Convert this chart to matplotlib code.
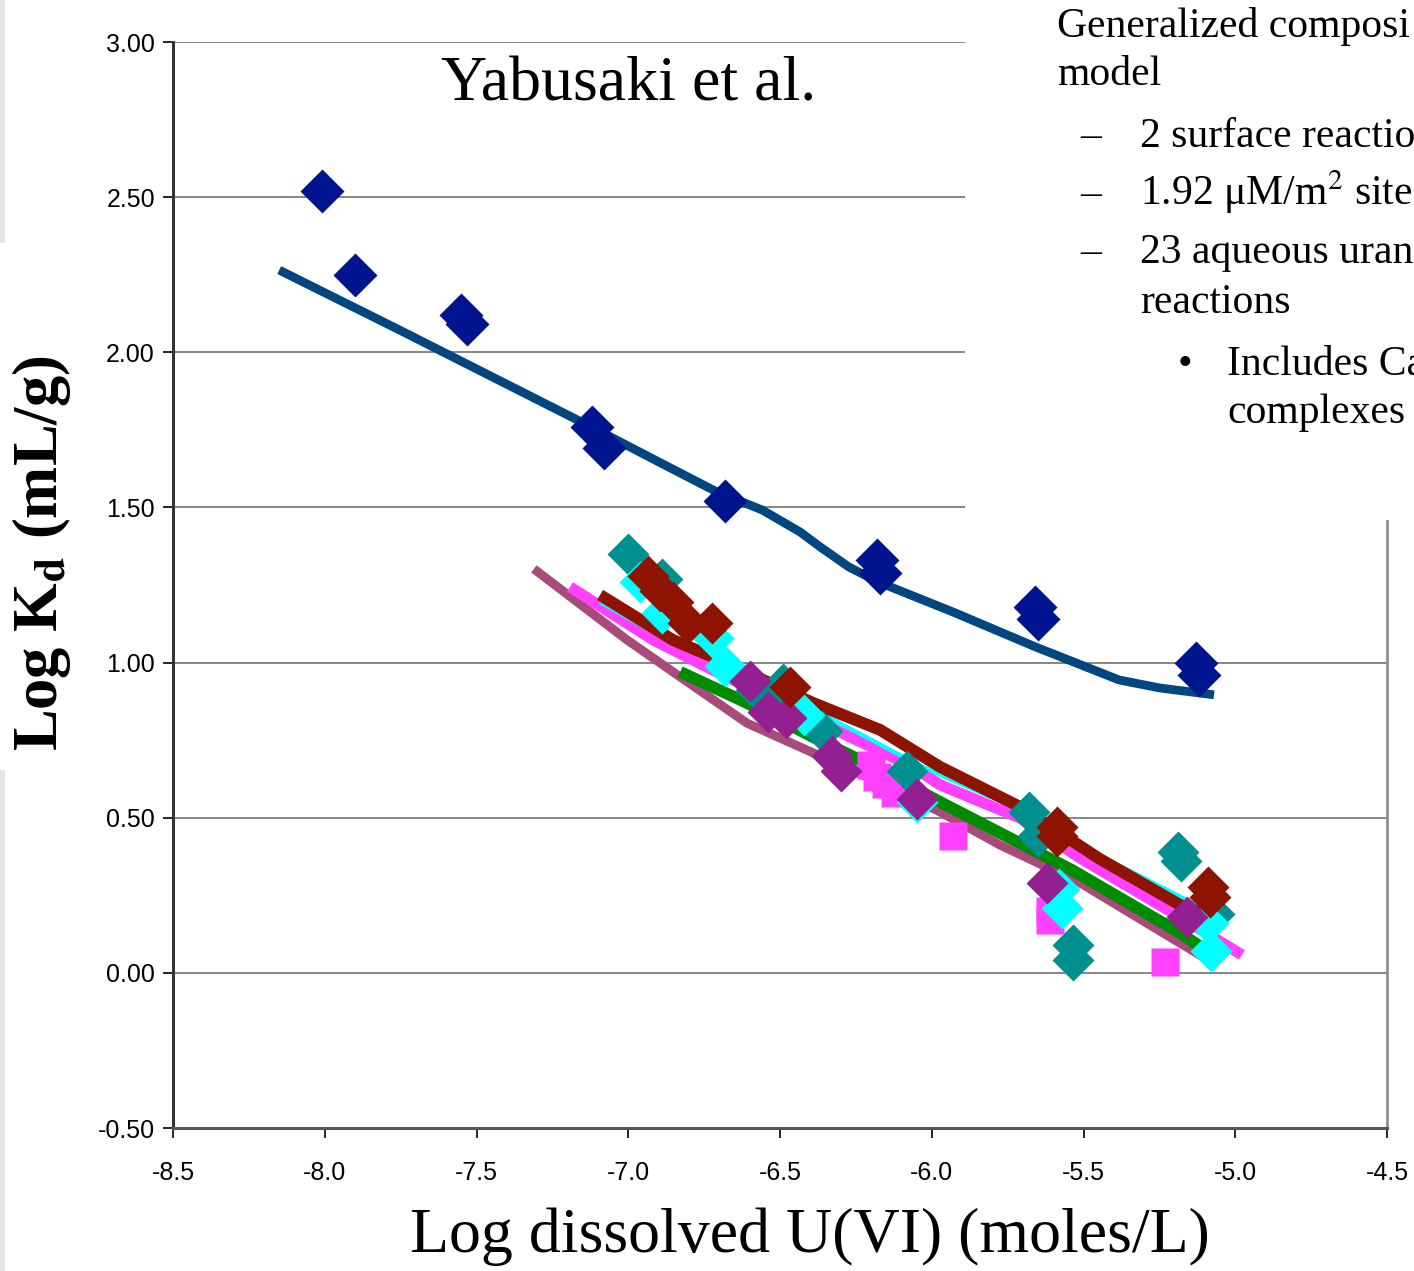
import matplotlib
matplotlib.use("Agg")
import matplotlib.pyplot as plt
from matplotlib.patches import Rectangle
from matplotlib.ticker import FormatStrFormatter

plt.rcParams['mathtext.fontset'] = 'stix'

# measured points (log U vs log Kd)
navy_x = [-8.01, -7.90, -7.55, -7.53, -7.12, -7.08, -6.68, -6.18, -6.17, -5.66, -5.65, -5.13, -5.12]
navy_y = [2.52, 2.25, 2.12, 2.09, 1.76, 1.69, 1.52, 1.33, 1.29, 1.18, 1.14, 1.00, 0.96]

teal_x = [-7.00, -6.89, -6.58, -6.49, -6.50, -6.36, -6.08, -5.68, -5.65, -5.19, -5.18, -5.07, -5.535, -5.535]
teal_y = [1.35, 1.27, 0.91, 0.93, 0.87, 0.78, 0.65, 0.52, 0.44, 0.39, 0.36, 0.19, 0.09, 0.04]

cyan_x = [-6.96, -6.89, -6.72, -6.68, -6.42, -6.05, -5.58, -5.57, -5.09, -5.08]
cyan_y = [1.26, 1.16, 1.08, 0.99, 0.83, 0.55, 0.27, 0.21, 0.16, 0.07]

purple_x = [-6.60, -6.54, -6.48, -6.33, -6.30, -6.05, -5.62, -5.16]
purple_y = [0.94, 0.84, 0.82, 0.70, 0.65, 0.56, 0.29, 0.18]

red_x = [-6.935, -6.895, -6.853, -6.803, -6.724, -6.467, -5.587, -5.587, -5.09, -5.083]
red_y = [1.28, 1.23, 1.195, 1.128, 1.128, 0.921, 0.47, 0.44, 0.277, 0.245]

mag_x = [-6.20, -6.18, -6.15, -6.12, -5.93, -5.61, -5.61, -5.23]
mag_y = [0.67, 0.63, 0.61, 0.58, 0.44, 0.20, 0.17, 0.035]

# model curves
navyfit_x = [-8.15, -7.75, -7.103, -6.912, -6.708, -6.559, -6.434, -6.368, -6.273, -6.177,
             -5.930, -5.657, -5.383, -5.248, -5.070]
navyfit_y = [2.265, 2.07, 1.750, 1.653, 1.550, 1.492, 1.421, 1.373, 1.308, 1.260,
             1.163, 1.050, 0.944, 0.918, 0.896]

mauve_x = [-7.311, -7.004, -6.829, -6.609, -6.391, -6.170, -5.973, -5.775, -5.511, -5.106]
mauve_y = [1.302, 1.073, 0.954, 0.805, 0.709, 0.612, 0.519, 0.412, 0.29, 0.051]

green_x = [-6.829, -6.609, -6.391, -6.170, -5.973, -5.775, -5.535, -5.182, -5.06]
green_y = [0.970, 0.870, 0.760, 0.654, 0.551, 0.451, 0.33, 0.129, 0.048]

magfit_x = [-7.192, -6.918, -6.721, -6.302, -6.062, -5.973, -5.709, -5.511, -5.182, -4.978]
magfit_y = [1.244, 1.073, 0.976, 0.776, 0.664, 0.606, 0.499, 0.37, 0.18, 0.058]

cyanfit_x = [-7.093, -6.872, -6.632, -6.325, -6.062, -5.973, -5.709, -5.49, -5.16, -5.08]
cyanfit_y = [1.195, 1.073, 0.967, 0.816, 0.68, 0.638, 0.525, 0.40, 0.235, 0.20]

redfit_x = [-7.093, -6.853, -6.698, -6.391, -6.170, -5.973, -5.709, -5.446, -5.182, -5.07]
redfit_y = [1.218, 1.073, 1.008, 0.870, 0.783, 0.664, 0.535, 0.367, 0.219, 0.177]

xticks = [-8.5, -8.0, -7.5, -7.0, -6.5, -6.0, -5.5, -5.0, -4.5]
yticks = [-0.5, 0.0, 0.5, 1.0, 1.5, 2.0, 2.5, 3.0]

W, H = 1414, 1271
fig = plt.figure(figsize=(W / 100, H / 100), dpi=100)
ax = fig.add_axes([173 / W, 1 - 1128 / H, (1387 - 173) / W, (1128 - 42) / H])

ax.set_xlim(-8.5, -4.5)
ax.set_ylim(-0.5, 3.0)
ax.set_xticks(xticks)
ax.set_yticks(yticks)
ax.xaxis.set_major_formatter(FormatStrFormatter('%.1f'))
ax.yaxis.set_major_formatter(FormatStrFormatter('%.2f'))
ax.grid(axis='y', color='#868686', lw=1.4, zorder=0)
ax.set_axisbelow(True)
ax.tick_params(direction='out', length=7, width=1.2, labelsize=18)
ax.tick_params(axis='x', pad=17)
ax.tick_params(axis='y', pad=6)
for lab in ax.get_xticklabels() + ax.get_yticklabels():
    lab.set_fontfamily('Liberation Sans')
ax.spines['top'].set_visible(False)
ax.spines['left'].set_linewidth(2.2)
ax.spines['left'].set_color('#333333')
ax.spines['bottom'].set_linewidth(2.2)
ax.spines['bottom'].set_color('#555555')
ax.spines['right'].set_color('#909090')
ax.spines['right'].set_linewidth(2)

# curves
ax.plot(mauve_x, mauve_y, color='#a84a7a', lw=6.5, solid_capstyle='butt', zorder=2)
ax.plot(green_x, green_y, color='#008c00', lw=8.5, solid_capstyle='butt', zorder=2)
ax.plot(magfit_x, magfit_y, color='#ff40ff', lw=8, solid_capstyle='butt', zorder=2)
ax.plot(cyanfit_x, cyanfit_y, color='#00ffff', lw=3, solid_capstyle='butt', zorder=2)
ax.plot(redfit_x, redfit_y, color='#8f1400', lw=8.5, solid_capstyle='butt', zorder=2)
ax.plot(navyfit_x, navyfit_y, color='#00467f', lw=6.3, solid_capstyle='butt', zorder=2)

# points
ax.plot(mag_x, mag_y, 's', color='#ff40ff', ms=20, mec='none', zorder=3)
ax.plot(teal_x, teal_y, 'D', color='#008f8f', ms=21, mec='none', zorder=3)
ax.plot(cyan_x, cyan_y, 'D', color='#00ffff', ms=21, mec='none', zorder=3)
ax.plot(purple_x, purple_y, 'D', color='#922090', ms=21, mec='none', zorder=3)
ax.plot(red_x, red_y, 'D', color='#8f1400', ms=21, mec='none', zorder=3)
ax.plot(navy_x, navy_y, 'D', color='#001490', ms=22, mec='none', zorder=3)

ax.text(-7.0, 2.86, 'Yabusaki et al.', fontsize=46, family='Liberation Serif',
        ha='center', va='center')

ax.set_xlabel('Log dissolved U(VI) (moles/L)', fontsize=46, family='Liberation Serif',
              labelpad=16, x=0.525)
ax.set_ylabel(r'Log K$_{\mathbf{d}}$ (mL/g)', fontsize=45, family='Liberation Serif',
              fontweight='bold', labelpad=18, y=0.529)

# slide text box on top of the chart corner
fig.patches.append(Rectangle((965 / W, 1 - 520 / H), 1, 1, transform=fig.transFigure,
                             facecolor='white', edgecolor='none', zorder=5))
fig.patches.append(Rectangle((0, 1 - 243 / H), 5 / W, 243 / H, transform=fig.transFigure,
                             facecolor='#e4e4e4', edgecolor='none', zorder=5))
fig.patches.append(Rectangle((0, 0), 5 / W, 1 - 770 / H, transform=fig.transFigure,
                             facecolor='#e4e4e4', edgecolor='none', zorder=5))

def slide_text(x, y, s):
    fig.text(x / W, 1 - y / H, s, fontsize=30, family='Liberation Serif',
             va='baseline', ha='left', zorder=6)

slide_text(1057, 37, 'Generalized composi')
slide_text(1057, 85, 'model')
slide_text(1080, 147, '–')
slide_text(1140, 147, '2 surface reactio')
slide_text(1080, 205, '–')
slide_text(1140, 205, '1.92 μM/m$^{2}$ site')
slide_text(1080, 263, '–')
slide_text(1140, 263, '23 aqueous uran')
slide_text(1140, 313, 'reactions')
slide_text(1178, 375, '•')
slide_text(1227, 375, 'Includes Ca')
slide_text(1227, 423, 'complexes')

fig.savefig('out.png', dpi=100)
